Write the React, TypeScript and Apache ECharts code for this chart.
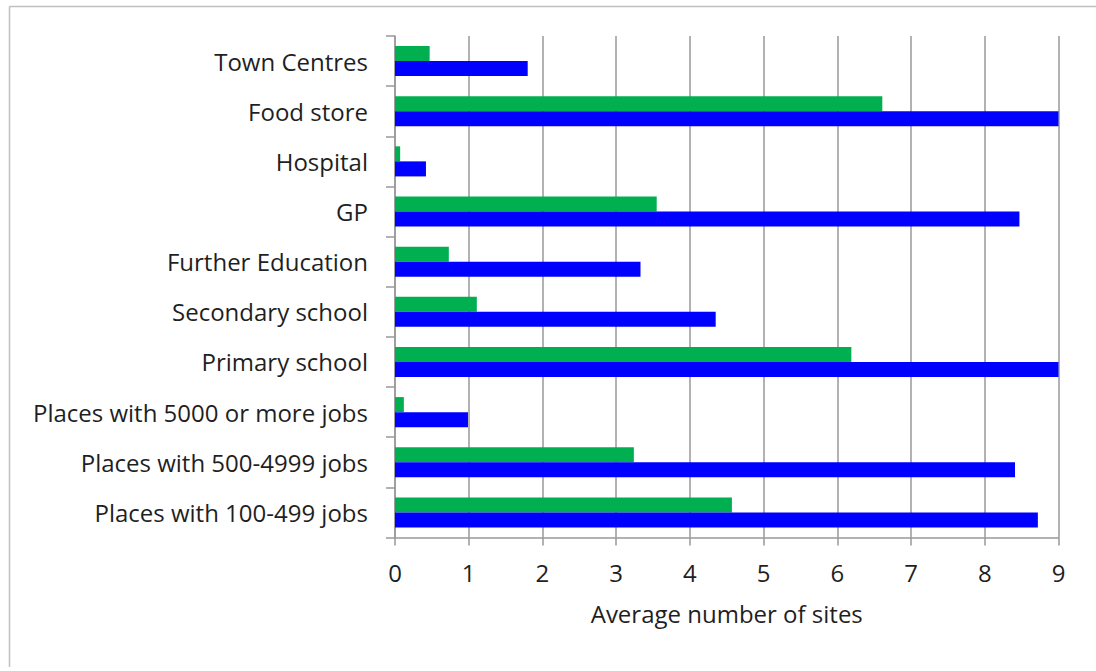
import React, { useEffect, useRef } from "react";
import * as echarts from "echarts";

const categories = [
  "Town Centres",
  "Food store",
  "Hospital",
  "GP",
  "Further Education",
  "Secondary school",
  "Primary school",
  "Places with 5000 or more jobs",
  "Places with 500-4999 jobs",
  "Places with 100-499 jobs",
];

const greenValues = [0.47, 6.61, 0.07, 3.55, 0.73, 1.11, 6.19, 0.12, 3.24, 4.57];
const blueValues = [1.8, 9.0, 0.42, 8.47, 3.33, 4.35, 9.0, 0.99, 8.41, 8.72];

const xTicks = [0, 1, 2, 3, 4, 5, 6, 7, 8, 9];
const xAxisName = "Average number of sites";

const FONT = "'Open Sans', 'Noto Sans', sans-serif";

export default function App() {
  const ref = useRef<HTMLDivElement>(null);

  useEffect(() => {
    if (!ref.current) return;
    const chart = echarts.init(ref.current, undefined, { renderer: "svg" });
    chart.setOption({
      animation: false,
      backgroundColor: "#ffffff",
      textStyle: { fontFamily: FONT },
      grid: { left: 395, right: 37.5, top: 36, bottom: 133.5, containLabel: false },
      graphic: [
        {
          type: "line",
          shape: { x1: 9.5, y1: 6.5, x2: 1096, y2: 6.5 },
          style: { stroke: "#c0c0c0", lineWidth: 1.5 },
        },
        {
          type: "line",
          shape: { x1: 9.5, y1: 6.5, x2: 9.5, y2: 667 },
          style: { stroke: "#c0c0c0", lineWidth: 1.5 },
        },
      ],
      xAxis: {
        type: "value",
        min: xTicks[0],
        max: xTicks[xTicks.length - 1],
        interval: 1,
        name: xAxisName,
        nameLocation: "middle",
        nameGap: 64,
        nameTextStyle: { fontSize: 24, color: "#1f1f1f", fontFamily: FONT },
        axisLine: { show: true, lineStyle: { color: "#999", width: 1.5 } },
        axisTick: { show: true, length: 8, lineStyle: { color: "#999", width: 1.5 } },
        axisLabel: { fontSize: 24, color: "#1f1f1f", margin: 23, fontFamily: FONT },
        splitLine: { show: true, lineStyle: { color: "#999", width: 1.5 } },
      },
      yAxis: {
        type: "category",
        data: categories,
        inverse: true,
        axisLine: { show: true, lineStyle: { color: "#999", width: 1.5 } },
        axisTick: { show: true, length: 9, alignWithLabel: false, lineStyle: { color: "#999", width: 1.5 } },
        axisLabel: { fontSize: 24, color: "#1f1f1f", margin: 27, fontFamily: FONT },
        splitLine: { show: false },
      },
      series: [
        {
          type: "bar",
          name: "Green",
          data: greenValues,
          itemStyle: { color: "#00B050" },
          barGap: "0%",
          barCategoryGap: "40%",
        },
        {
          type: "bar",
          name: "Blue",
          data: blueValues,
          itemStyle: { color: "#0000FF" },
          barGap: "0%",
          barCategoryGap: "40%",
        },
      ],
    });
    return () => chart.dispose();
  }, []);

  return (
    <div
      ref={ref}
      style={{ position: "fixed", left: 0, top: 0, width: 1096, height: 671, background: "#fff" }}
    />
  );
}
